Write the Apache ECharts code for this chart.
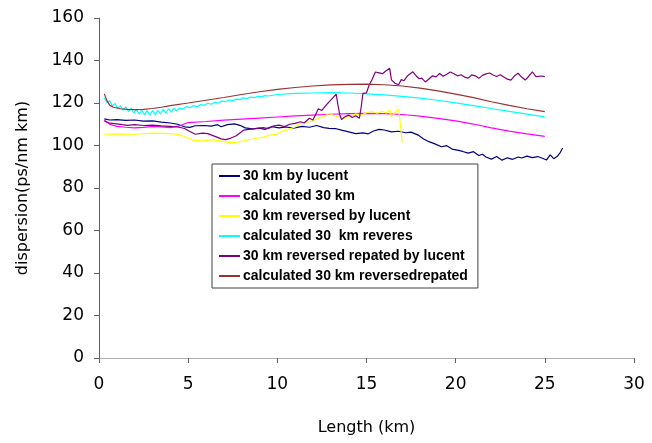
<!DOCTYPE html>
<html>
<head>
<meta charset="utf-8">
<script src="https://cdn.jsdelivr.net/npm/echarts@6/dist/echarts.min.js"></script>
<style>
  html, body { margin: 0; padding: 0; background: #fff; }
  #chart { width: 652px; height: 443px; }
</style>
</head>
<body>
<div id="chart"></div>
<script>
var seriesNames = [
  '30 km by lucent',
  'calculated 30 km',
  '30 km reversed by lucent',
  'calculated 30  km reveres',
  '30 km reversed repated by lucent',
  'calculated 30 km reversedrepated'
];
var seriesColors = ['#000080', '#ff00ff', '#ffff00', '#00ffff', '#800080', '#993333'];

var lucent30 = [
  [0.3,112.5],[0.6,112],[1,112.2],[1.5,111.8],[2,112],[2.5,111.5],[3,111.6],[3.5,111],[4,110.6],[4.4,110],
  [4.8,108.8],[5.1,108.5],[5.4,109.3],[5.9,109.4],[6.3,109.1],[6.65,109.8],[6.85,108.8],[7.2,109.8],[7.6,110.2],
  [7.9,109.5],[8.2,108.3],[8.6,107.8],[9.0,108.2],[9.3,107.6],[9.7,108.9],[10.1,108.3],[10.5,108.7],[10.9,108.2],
  [11.4,109],[11.8,108.6],[12.2,109.4],[12.6,108.4],[12.9,108.1],[13.3,107.9],[13.6,107.2],[14.0,106.4],[14.4,105.6],
  [14.8,105.9],[15.1,105.5],[15.4,106.8],[15.7,107.6],[16.0,107.3],[16.4,106.4],[16.8,106.7],[17.2,106.0],[17.5,106.3],
  [17.9,104.9],[18.2,103.1],[18.5,101.8],[18.8,100.9],[19.2,99.4],[19.5,99.9],[19.8,98.3],[20.1,97.8],[20.4,97.2],
  [20.7,96.4],[21.0,97.1],[21.3,95.3],[21.5,95.9],[21.7,94.6],[22.0,93.6],[22.3,94.8],[22.6,93.1],[22.9,94.2],
  [23.2,93.5],[23.5,94.6],[23.7,94.1],[24.0,95.0],[24.3,94.3],[24.6,94.8],[24.9,93.9],[25.1,93.2],[25.3,95.6],
  [25.5,93.8],[25.7,94.9],[25.85,96.5],[26.0,98.8]
];
var calc30 = [
  [0.3,112],[0.6,110],[1,109],[1.5,108.6],[2,108.3],[2.5,108.5],[3,109],[3.5,108.8],[4,108.4],[4.5,109.2],
  [5,110.8],[6,111.3],[7,111.9],[8,112.4],[9,112.9],[10,113.4],[11,113.9],[12,114.3],[13,114.7],[14,115],
  [15,115.1],[16,115],[17,114.6],[18,113.8],[19,112.8],[20,111.6],[21,110.1],[22,108.3],[23,106.8],[24,105.5],[25,104.3]
];
var lucentRev = [
  [0.3,105.3],[1,105.5],[2,105.3],[3,105.8],[4,105.6],[4.5,105.2],[5,103.5],[5.3,102.5],[5.8,102.1],[6.3,102.8],
  [6.8,102.2],[7.2,101.6],[7.6,101.2],[8.0,102.0],[8.4,102.7],[8.8,103.3],[9.2,103.9],[9.6,104.9],[10.0,105.4],
  [10.3,106.8],[10.7,107.8],[11.0,108.7],[11.3,110.3],[11.6,111.0],[12.0,111.6],[12.3,112.8],[12.6,113.6],[12.9,115.1],
  [13.2,114.0],[13.5,113.3],[13.8,112.9],[14.1,113.8],[14.4,114.9],[14.7,114.2],[15.0,115.4],[15.3,116],[15.6,115.2],
  [15.9,116.1],[16.1,115.3],[16.3,116.7],[16.4,113.6],[16.6,115.5],[16.8,117.2],[16.9,110],[17.0,101.5]
];
var calcRev = [
  [0.3,122.5],[0.45,120.2],[0.6,121],[0.75,118.6],[0.9,119.8],[1.05,117.4],[1.2,118.8],[1.35,116.6],[1.5,118.2],
  [1.65,116],[1.8,117.5],[1.95,115.3],[2.1,117],[2.25,114.8],[2.4,116.6],[2.55,114.5],[2.7,116.4],[2.85,114.3],
  [3.0,116.5],[3.15,114.5],[3.3,116.6],[3.45,114.8],[3.6,117],[3.75,115.2],[3.9,117.3],[4.05,115.7],[4.2,117.6],
  [4.35,116.2],[4.5,117.6],[4.7,117.1],[4.9,118.3],[5.1,117.8],[5.3,118.8],[5.5,118.3],[5.7,119.3],[5.9,118.9],
  [6.1,119.9],[6.3,119.4],[6.5,120.4],[6.7,120.0],[6.9,121.0],[7.1,120.6],[7.3,121.4],[7.5,121.0],[7.7,121.9],
  [7.9,121.6],[8.1,122.4],[8.3,122.0],[8.5,122.8],[8.7,122.5],[8.9,123.2],[9.1,122.9],[9.3,123.5],[9.5,123.3],
  [10,124.0],[11,124.5],[12,124.7],[13,124.9],[14,124.7],[15,124.3],[16,123.8],[17,123.1],[18,122.3],[19,121.3],
  [20,120.1],[21,118.8],[22,117.4],[23,116.1],[24,114.8],[25,113.5]
];
var lucentRevRep = [
  [0.3,111.5],[0.6,110.5],[1.0,110.2],[1.3,109.8],[1.6,109.5],[2.0,109.8],[2.5,109.4],[3.0,109.6],[3.5,109.2],
  [4.0,109.0],[4.5,108.6],[4.8,108.0],[5.1,106.6],[5.4,105.3],[5.8,105.8],[6.1,105.6],[6.5,104.3],[6.85,103.1],
  [7.1,102.8],[7.4,103.5],[7.7,104.6],[8.1,107.2],[8.4,107.6],[8.8,107.9],[9.2,108.4],[9.5,108.0],[9.8,109.3],
  [10.1,109.6],[10.4,108.9],[10.7,110.0],[11.0,110.4],[11.3,111.2],[11.5,110.6],[11.8,112.8],[12.0,112.0],
  [12.3,117.3],[12.5,116.5],[12.7,118.6],[12.9,120.5],[13.1,122.3],[13.3,124.2],[13.4,119],[13.5,114.5],
  [13.6,112.2],[13.8,113.6],[14.0,114.3],[14.2,113.2],[14.4,114.0],[14.6,112.8],[14.7,118],[14.8,124.5],
  [15.0,124.8],[15.15,128.5],[15.3,130.8],[15.5,134.6],[15.7,134.2],[15.9,133.8],[16.1,135.2],[16.3,136.3],
  [16.4,130.9],[16.6,129.3],[16.8,128.6],[16.95,131.0],[17.1,130.5],[17.3,132.8],[17.6,134.7],[17.8,132.6],
  [17.95,131.4],[18.1,131.7],[18.3,129.9],[18.5,131.3],[18.7,132.8],[18.9,132.3],[19.1,133.9],[19.3,132.6],
  [19.5,133.5],[19.7,134.6],[19.9,133.8],[20.1,132.8],[20.3,133.3],[20.5,132.2],[20.7,131.7],[20.9,133.2],
  [21.1,132.8],[21.3,131.6],[21.5,133.0],[21.7,133.7],[21.9,134.1],[22.1,133.2],[22.3,132.5],[22.5,133.3],
  [22.7,132.2],[22.9,131.2],[23.1,130.8],[23.3,132.8],[23.5,134.0],[23.7,132.2],[23.9,130.8],[24.1,132.6],
  [24.3,134.7],[24.5,132.4],[24.6,131.6],[24.8,132.7],[25.0,132.4]
];
var calcRevRep = [
  [0.3,124.3],[0.45,121],[0.6,119],[0.8,118],[1.2,117.3],[1.6,117],[2,116.9],[2.5,117],[3,117.4],[3.5,118],
  [4,118.8],[5,120],[6,121.3],[7,122.6],[8,124],[9,125.3],[10,126.4],[11,127.3],[12,128],[13,128.5],[14,128.8],
  [15,128.9],[16,128.6],[17,128],[18,127.0],[19,125.7],[20,124.2],[21,122.5],[22,120.6],[23,118.9],[24,117.3],[25,115.9]
];

var xTicks = { min: 0, max: 30, interval: 5 };
var yTicks = { min: 0, max: 160, interval: 20 };

var allData = [lucent30, calc30, lucentRev, calcRev, lucentRevRep, calcRevRep];

var chart = echarts.init(document.getElementById('chart'), null, { renderer: 'canvas' });
var axisColor = '#606060';
var labelFont = { color: '#000', fontFamily: 'DejaVu Sans', fontSize: 17 };

chart.setOption({
  animation: false,
  backgroundColor: '#fff',
  grid: { left: 99, right: 18, top: 18, bottom: 85 },
  legend: {
    orient: 'vertical',
    left: 212, top: 164,
    padding: [5, 10, 5, 6],
    itemWidth: 21, itemHeight: 14, itemGap: 6,
    backgroundColor: '#fff',
    borderColor: '#404040', borderWidth: 1, borderRadius: 0,
    itemStyle: { opacity: 0 },
    textStyle: { color: '#000', fontFamily: 'Liberation Sans', fontWeight: 'bold', fontSize: 14, padding: [0, 0, 0, -2] },
    data: seriesNames
  },
  xAxis: [{
    type: 'value', min: xTicks.min, max: xTicks.max, interval: xTicks.interval,
    name: 'Length (km)', nameLocation: 'middle', nameGap: 62,
    nameTextStyle: { color: '#000', fontFamily: 'DejaVu Sans', fontSize: 16 },
    axisLine: { show: true, onZero: false, lineStyle: { color: axisColor, width: 1 } },
    axisTick: { show: true, inside: false, length: 5, lineStyle: { color: axisColor } },
    axisLabel: Object.assign({ margin: 18 }, labelFont),
    splitLine: { show: false }
  }, {
    type: 'value', position: 'top', min: xTicks.min, max: xTicks.max,
    axisLine: { show: true, lineStyle: { color: '#b0b0b0', width: 1 } },
    axisTick: { show: false }, axisLabel: { show: false }, splitLine: { show: false }
  }],
  yAxis: {
    type: 'value', min: yTicks.min, max: yTicks.max, interval: yTicks.interval,
    name: 'dispersion(ps/nm km)', nameLocation: 'middle', nameGap: 68, nameRotate: 90,
    nameTextStyle: { color: '#000', fontFamily: 'DejaVu Sans', fontSize: 16 },
    axisLine: { show: true, lineStyle: { color: axisColor, width: 1 } },
    axisTick: { show: true, inside: false, length: 5, lineStyle: { color: axisColor } },
    axisLabel: Object.assign({ margin: 15 }, labelFont),
    splitLine: { show: false }
  },
  series: allData.map(function(d, i) {
    return {
      name: seriesNames[i],
      type: 'line',
      data: d,
      symbol: 'none',
      smooth: false,
      color: seriesColors[i],
      lineStyle: { width: 1.2, color: seriesColors[i] }
    };
  })
});
</script>
</body>
</html>
